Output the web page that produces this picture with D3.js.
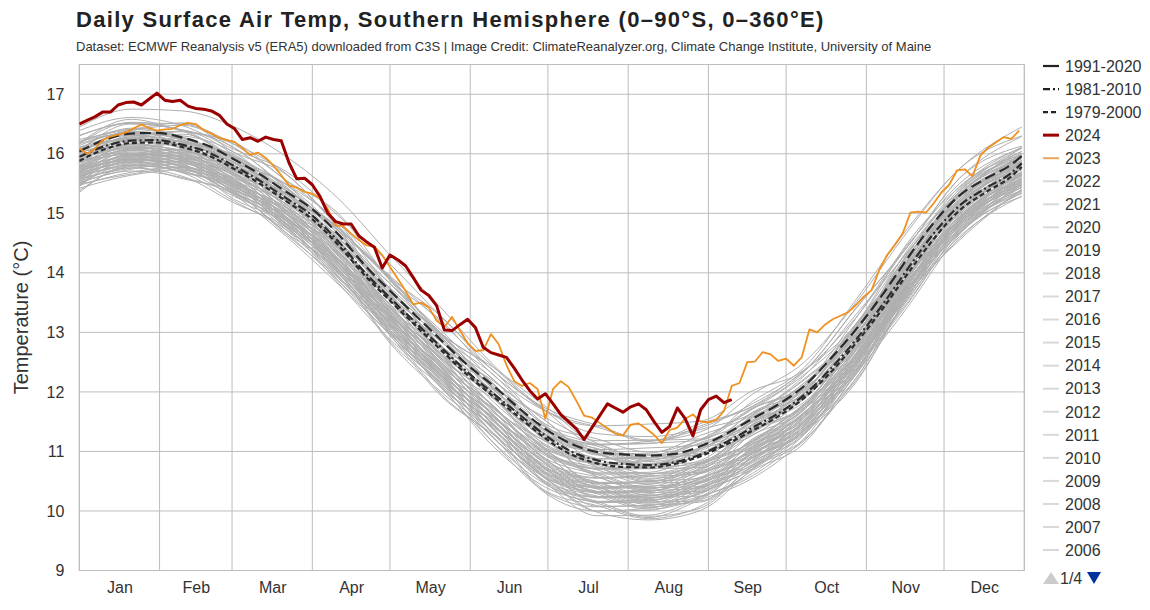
<!DOCTYPE html>
<html><head><meta charset="utf-8">
<script src="https://cdn.jsdelivr.net/npm/d3@7"></script>
<style>
body{margin:0;background:#fff}
svg{display:block}
text{font-family:"Liberation Sans",Arial,Helvetica,sans-serif}
</style>
</head><body>
<svg id="chart" width="1150" height="610"></svg>
<script>
// ---------------- DATA ----------------
const titleText = "Daily Surface Air Temp, Southern Hemisphere (0\u201390\u00b0S, 0\u2013360\u00b0E)";
const subtitleText = "Dataset: ECMWF Reanalysis v5 (ERA5) downloaded from C3S | Image Credit: ClimateReanalyzer.org, Climate Change Institute, University of Maine";
const yLabel = "Temperature (\u00b0C)";
const monthNames = ["Jan","Feb","Mar","Apr","May","Jun","Jul","Aug","Sep","Oct","Nov","Dec"];
const monthStartDays = [0,31,59,90,120,151,181,212,243,273,304,334,365];
const yTicks = [9,10,11,12,13,14,15,16,17];

// climatologies sampled every 10 days (last point day 364)
const climDays = [0,10,20,30,40,50,60,70,80,90,100,110,120,130,140,150,160,170,180,190,200,210,220,230,240,250,260,270,280,290,300,310,320,330,340,350,360,364];
const clim1991_2020 = [16.04,16.24,16.34,16.35,16.27,16.13,15.90,15.65,15.36,15.07,14.65,14.14,13.70,13.28,12.86,12.45,12.10,11.72,11.38,11.13,10.99,10.95,10.93,10.96,11.09,11.30,11.55,11.79,12.10,12.55,13.05,13.62,14.25,14.84,15.30,15.58,15.82,15.96];
const clim1981_2010 = [15.95,16.13,16.22,16.23,16.15,16.02,15.79,15.54,15.25,14.96,14.53,14.02,13.58,13.16,12.74,12.33,11.97,11.62,11.27,11.00,10.85,10.79,10.77,10.82,10.95,11.16,11.40,11.64,11.95,12.38,12.88,13.45,14.07,14.66,15.13,15.42,15.68,15.84];
const clim1979_2000 = [15.88,16.08,16.18,16.19,16.11,15.97,15.74,15.49,15.20,14.90,14.47,13.97,13.53,13.11,12.69,12.28,11.92,11.57,11.22,10.95,10.80,10.74,10.73,10.79,10.92,11.12,11.35,11.59,11.90,12.32,12.82,13.38,13.99,14.57,15.05,15.35,15.62,15.78];

// 2024 and 2023, every 3 days starting Jan 1
const stepDays = 3;
const temps2024 = [16.50,16.56,16.62,16.70,16.70,16.82,16.86,16.87,16.82,16.92,
 17.02,16.90,16.88,16.90,16.80,16.76,16.75,16.72,16.65,16.50,
 16.42,16.24,16.27,16.21,16.28,16.24,16.22,15.85,15.58,15.59,
 15.48,15.28,15.00,14.86,14.82,14.82,14.62,14.52,14.43,14.08,
 14.30,14.22,14.12,13.92,13.71,13.62,13.45,13.04,13.03,13.13,
 13.22,13.08,12.75,12.66,12.62,12.58,12.40,12.20,12.02,11.88,
 11.97,11.80,11.62,11.50,11.38,11.20,11.40,11.60,11.80,11.73,
 11.66,11.75,11.80,11.70,11.50,11.32,11.42,11.73,11.55,11.26,
 11.70,11.87,11.93,11.82,11.87];
const temps2023 = [16.09,16.00,16.08,16.23,16.29,16.32,16.36,16.43,16.49,16.43,
 16.39,16.41,16.42,16.48,16.52,16.50,16.40,16.34,16.27,16.23,
 16.20,16.09,15.98,16.02,15.93,15.80,15.64,15.47,15.43,15.36,
 15.33,15.25,15.07,14.80,14.78,14.66,14.55,14.46,14.44,14.30,
 14.10,13.90,13.70,13.47,13.50,13.42,13.20,13.09,13.26,13.03,
 12.82,12.69,12.70,12.97,12.80,12.45,12.18,12.10,12.15,12.05,
 11.55,12.05,12.18,12.08,11.85,11.60,11.57,11.48,11.39,11.30,
 11.27,11.45,11.47,11.38,11.28,11.14,11.36,11.40,11.55,11.62,
 11.50,11.49,11.53,11.68,12.10,12.15,12.50,12.51,12.67,12.63,
 12.52,12.56,12.44,12.58,13.05,13.00,13.13,13.22,13.28,13.34,
 13.46,13.60,13.71,14.05,14.30,14.47,14.66,15.01,15.03,15.01,
 15.17,15.35,15.48,15.72,15.74,15.62,15.97,16.10,16.19,16.28,
 16.25,16.39];

// earlier years 1940-2022 (estimated), sampled every 20 days (last point day 364)
const grayDays = [0,20,40,60,80,100,120,140,160,180,200,220,240,260,280,300,320,340,364];
const grayFirstYear = 1940;
const grayValues = [
[15.59,15.76,15.87,15.34,14.93,13.99,13.08,12.06,11.43,10.72,10.14,10.15,10.17,10.86,11.50,12.32,13.69,14.69,15.48],
[15.48,15.88,15.68,15.46,14.78,14.16,12.98,12.21,11.23,10.56,10.29,10.05,10.35,10.70,11.36,12.49,13.60,14.82,15.43],
[15.54,15.76,15.62,15.17,14.76,13.94,13.04,12.06,11.14,10.32,10.07,10.10,10.15,10.74,11.18,12.30,13.43,14.65,15.44],
[15.42,15.64,15.73,15.30,14.61,13.81,12.97,12.11,11.22,10.48,9.92,9.93,10.23,10.63,11.31,12.16,13.61,14.61,15.29],
[15.57,15.93,15.78,15.31,14.83,14.12,12.95,12.13,11.46,10.50,10.25,10.03,10.24,10.83,11.28,12.46,13.76,14.66,15.51],
[15.64,15.86,15.72,15.28,14.87,14.06,13.17,12.20,11.29,10.48,10.23,10.26,10.31,10.89,11.32,12.43,13.55,14.76,15.54],
[15.49,15.66,15.77,15.23,14.82,13.87,12.95,11.92,11.28,10.56,9.98,9.85,10.01,10.71,11.36,12.19,13.57,14.58,15.38],
[15.52,15.74,15.83,15.41,14.72,13.93,13.10,12.25,11.37,10.64,10.08,10.09,10.39,10.78,11.45,12.29,13.73,14.72,15.39],
[15.69,15.86,15.97,15.44,15.04,14.11,13.21,12.20,11.58,10.88,10.30,10.31,10.33,11.01,11.64,12.45,13.81,14.80,15.58],
[15.47,15.83,15.68,15.20,14.72,14.00,12.82,11.99,11.31,10.34,10.09,9.87,10.08,10.68,11.14,12.33,13.64,14.55,15.41],
[15.38,15.78,15.58,15.35,14.67,14.04,12.85,12.07,11.08,10.40,10.13,9.89,10.19,10.55,11.22,12.36,13.48,14.71,15.33],
[15.74,15.96,15.82,15.38,14.98,14.18,13.30,12.34,11.44,10.64,10.39,10.42,10.47,11.04,11.46,12.56,13.67,14.87,15.64],
[15.62,15.84,15.93,15.51,14.83,14.05,13.23,12.39,11.52,10.80,10.24,10.25,10.55,10.93,11.59,12.42,13.85,14.83,15.49],
[15.67,16.03,15.88,15.41,14.94,14.24,13.08,12.27,11.61,10.66,10.41,10.19,10.40,10.98,11.42,12.59,13.88,14.77,15.61],
[15.45,15.90,15.80,15.48,14.75,14.03,13.13,12.09,11.39,10.46,10.16,10.21,10.41,10.74,11.43,12.52,13.63,14.79,15.38],
[15.51,15.71,15.60,15.32,14.78,13.83,12.88,12.14,11.15,10.45,10.16,9.91,10.05,10.76,11.20,12.23,13.60,14.74,15.36],
[15.35,15.80,15.70,15.37,14.64,13.91,13.00,11.95,11.24,10.30,10.00,10.05,10.25,10.59,11.29,12.39,13.51,14.68,15.28],
[15.58,15.98,15.78,15.56,14.89,14.28,13.11,12.35,11.38,10.72,10.45,10.21,10.51,10.85,11.50,12.62,13.72,14.93,15.53],
[15.55,16.00,15.90,15.58,14.86,14.15,13.26,12.23,11.54,10.62,10.32,10.37,10.57,10.89,11.57,12.65,13.75,14.90,15.48],
[15.61,15.81,15.70,15.43,14.89,13.95,13.01,12.28,11.30,10.61,10.32,10.07,10.21,10.91,11.34,12.36,13.72,14.85,15.46],
[15.71,15.91,15.80,15.53,15.00,14.07,13.14,12.42,11.45,10.77,10.48,10.23,10.37,11.06,11.48,12.49,13.84,14.96,15.56],
[15.74,15.91,16.02,15.49,15.09,14.17,13.27,12.27,11.65,10.96,10.38,10.39,10.41,11.08,11.71,12.51,13.87,14.85,15.63],
[15.53,15.93,15.73,15.51,14.83,14.22,13.04,12.28,11.30,10.64,10.37,10.13,10.43,10.77,11.43,12.55,13.66,14.87,15.48],
[15.79,16.01,15.87,15.43,15.03,14.24,13.36,12.41,11.51,10.72,10.47,10.50,10.55,11.11,11.53,12.62,13.73,14.92,15.69],
[15.47,15.69,15.78,15.36,14.67,13.87,13.04,12.18,11.30,10.56,10.00,10.01,10.31,10.71,11.38,12.23,13.67,14.67,15.34],
[15.62,15.98,15.83,15.36,14.88,14.18,13.01,12.20,11.53,10.58,10.33,10.11,10.32,10.90,11.35,12.52,13.82,14.71,15.56],
[15.67,15.89,15.98,15.56,14.88,14.11,13.29,12.46,11.59,10.88,10.32,10.33,10.63,11.00,11.66,12.48,13.91,14.88,15.54],
[15.50,15.95,15.85,15.53,14.80,14.09,13.19,12.16,11.46,10.54,10.24,10.29,10.49,10.81,11.50,12.58,13.69,14.84,15.43],
[15.66,15.86,15.75,15.48,14.94,14.01,13.07,12.35,11.37,10.69,10.40,10.15,10.29,10.98,11.41,12.42,13.78,14.90,15.51],
[15.72,16.08,15.93,15.46,14.99,14.30,13.14,12.34,11.68,10.74,10.49,10.27,10.48,11.05,11.49,12.65,13.94,14.82,15.66],
[15.60,16.05,15.95,15.63,14.91,14.21,13.32,12.30,11.61,10.70,10.40,10.45,10.65,10.96,11.64,12.71,13.81,14.95,15.53],
[15.64,15.81,15.92,15.39,14.98,14.05,13.14,12.13,11.50,10.80,10.22,10.23,10.25,10.93,11.57,12.38,13.75,14.74,15.53],
[15.79,15.96,16.07,15.55,15.15,14.23,13.34,12.34,11.73,11.04,10.46,10.47,10.49,11.16,11.78,12.58,13.93,14.91,15.68],
[15.68,16.08,15.88,15.67,15.00,14.40,13.24,12.49,11.53,10.88,10.61,10.37,10.67,11.00,11.64,12.75,13.84,15.04,15.63],
[15.69,15.91,15.77,15.33,14.92,14.12,13.23,12.27,11.36,10.56,10.31,10.34,10.39,10.96,11.39,12.49,13.61,14.81,15.59],
[15.57,15.79,15.88,15.46,14.77,13.99,13.16,12.32,11.44,10.72,10.16,10.17,10.47,10.85,11.52,12.35,13.79,14.77,15.44],
[15.76,15.89,15.85,15.55,14.81,14.21,13.28,12.24,11.41,10.85,10.42,10.17,10.48,11.03,11.66,12.50,13.69,14.91,15.66],
[15.84,16.06,15.92,15.49,15.09,14.30,13.43,12.48,11.59,10.80,10.55,10.58,10.63,11.19,11.60,12.69,13.79,14.98,15.74],
[15.72,15.94,16.03,15.62,14.94,14.17,13.36,12.53,11.67,10.96,10.40,10.41,10.71,11.08,11.73,12.55,13.97,14.94,15.59],
[15.77,16.13,15.98,15.52,15.05,14.36,13.21,12.41,11.76,10.82,10.57,10.35,10.56,11.13,11.56,12.72,14.00,14.88,15.71],
[15.89,16.06,16.17,15.65,15.26,14.35,13.47,12.48,11.88,11.20,10.62,10.63,10.65,11.31,11.92,12.71,14.05,15.02,15.78],
[15.78,16.18,15.98,15.77,15.11,14.52,13.37,12.63,11.68,11.04,10.77,10.53,10.83,11.15,11.78,12.88,13.96,15.15,15.73],
[15.70,16.15,16.05,15.74,15.03,14.33,13.46,12.44,11.77,10.86,10.56,10.61,10.81,11.12,11.78,12.85,13.93,15.07,15.63],
[15.94,16.16,16.02,15.59,15.20,14.42,13.56,12.62,11.74,10.96,10.71,10.74,10.79,11.34,11.74,12.82,13.91,15.09,15.84],
[15.81,16.01,15.90,15.64,15.11,14.19,13.27,12.56,11.60,10.93,10.64,10.39,10.53,11.21,11.62,12.62,13.96,15.07,15.66],
[15.86,15.99,15.95,15.66,14.92,14.33,13.41,12.38,11.56,11.01,10.58,10.33,10.64,11.18,11.80,12.63,13.81,15.02,15.76],
[15.77,15.99,16.08,15.67,15.00,14.23,13.43,12.60,11.75,11.04,10.48,10.49,10.79,11.16,11.80,12.62,14.03,15.00,15.64],
[15.92,16.28,16.13,15.68,15.22,14.54,13.41,12.62,11.99,11.06,10.81,10.59,10.80,11.36,11.77,12.92,14.18,15.05,15.86],
[15.96,16.16,16.05,15.80,15.28,14.37,13.47,12.77,11.83,11.17,10.88,10.63,10.77,11.44,11.83,12.82,14.14,15.24,15.81],
[15.96,16.09,16.05,15.76,15.03,14.45,13.54,12.52,11.71,11.17,10.74,10.49,10.80,11.33,11.94,12.76,13.93,15.13,15.86],
[15.99,16.16,16.27,15.76,15.37,14.47,13.60,12.62,12.03,11.36,10.78,10.79,10.81,11.46,12.06,12.84,14.17,15.13,15.88],
[15.85,16.30,16.20,15.90,15.19,14.51,13.65,12.65,11.99,11.10,10.80,10.85,11.05,11.34,11.99,13.04,14.11,15.23,15.78],
[15.73,16.13,15.93,15.72,15.06,14.46,13.31,12.56,11.61,10.96,10.69,10.45,10.75,11.08,11.71,12.82,13.90,15.10,15.68],
[15.87,16.23,16.08,15.62,15.16,14.48,13.34,12.55,11.91,10.98,10.73,10.51,10.72,11.28,11.70,12.85,14.12,14.99,15.81],
[15.91,16.11,16.00,15.74,15.22,14.31,13.40,12.70,11.75,11.09,10.80,10.55,10.69,11.36,11.76,12.75,14.08,15.18,15.76],
[16.04,16.26,16.12,15.70,15.31,14.54,13.69,12.76,11.89,11.12,10.87,10.90,10.95,11.49,11.88,12.95,14.03,15.20,15.94],
[15.87,16.09,16.18,15.78,15.11,14.35,13.56,12.74,11.90,11.20,10.64,10.65,10.95,11.31,11.94,12.75,14.15,15.11,15.74],
[15.93,16.33,16.13,15.93,15.28,14.70,13.57,12.84,11.91,11.28,11.01,10.77,11.07,11.38,11.99,13.08,14.14,15.32,15.88],
[16.30,16.52,16.50,16.15,15.55,14.85,13.90,12.95,12.05,11.35,10.95,10.80,11.05,11.50,12.10,12.95,14.15,15.20,15.85],
[15.94,16.11,16.22,15.71,15.32,14.41,13.54,12.55,11.96,11.28,10.70,10.71,10.73,11.39,11.99,12.78,14.11,15.08,15.83],
[15.80,16.25,16.15,15.85,15.14,14.45,13.59,12.58,11.92,11.02,10.72,10.77,10.97,11.27,11.92,12.98,14.05,15.18,15.73],
[16.02,16.38,16.23,15.78,15.33,14.66,13.54,12.76,12.14,11.22,10.97,10.75,10.96,11.51,11.91,13.05,14.30,15.16,15.96],
[16.14,16.36,16.22,15.80,15.42,14.66,13.82,12.90,12.04,11.28,11.03,11.06,11.11,11.64,12.02,13.08,14.15,15.31,16.04],
[16.02,16.24,16.33,15.93,15.27,14.53,13.75,12.95,12.12,11.44,10.88,10.89,11.19,11.53,12.15,12.94,14.33,15.27,15.89],
[16.06,16.26,16.15,15.90,15.39,14.49,13.60,12.91,11.98,11.33,11.04,10.79,10.93,11.59,11.97,12.95,14.26,15.35,15.91],
[16.09,16.26,16.37,15.86,15.48,14.59,13.73,12.76,12.18,11.52,10.94,10.95,10.97,11.61,12.20,12.97,14.29,15.24,15.98],
[15.98,16.38,16.18,15.98,15.33,14.76,13.63,12.91,11.98,11.36,11.09,10.85,11.15,11.45,12.06,13.14,14.20,15.37,15.93],
[16.11,16.24,16.20,15.92,15.20,14.63,13.74,12.73,11.94,11.41,10.98,10.73,11.04,11.56,12.15,12.96,14.11,15.30,16.01],
[16.01,16.21,16.10,15.85,15.33,14.43,13.53,12.84,11.90,11.25,10.96,10.71,10.85,11.51,11.90,12.88,14.20,15.29,15.86],
[16.07,16.43,16.28,15.83,15.38,14.72,13.60,12.83,12.21,11.30,11.05,10.83,11.04,11.58,11.98,13.11,14.36,15.21,16.01],
[16.19,16.41,16.27,15.85,15.48,14.72,13.89,12.97,12.12,11.36,11.11,11.14,11.19,11.72,12.09,13.15,14.21,15.37,16.09],
[15.90,16.35,16.25,15.95,15.25,14.57,13.72,12.72,12.07,11.18,10.88,10.93,11.13,11.42,12.06,13.11,14.17,15.29,15.83],
[16.11,16.31,16.20,15.95,15.44,14.55,13.66,12.98,12.05,11.41,11.12,10.87,11.01,11.66,12.04,13.01,14.32,15.40,15.96],
[16.07,16.29,16.38,15.98,15.33,14.59,13.82,13.02,12.20,11.52,10.96,10.97,11.27,11.61,12.22,13.01,14.39,15.33,15.94],
[16.21,16.34,16.30,16.02,15.31,14.75,13.87,12.87,12.09,11.57,11.14,10.89,11.20,11.71,12.29,13.09,14.23,15.41,16.11],
[16.24,16.41,16.52,16.02,15.65,14.77,13.93,12.97,12.41,11.76,11.18,11.19,11.21,11.84,12.41,13.55,14.75,15.75,16.45],
[16.45,16.75,16.72,16.45,15.95,15.25,14.30,13.40,12.45,11.70,11.30,11.25,11.40,11.80,12.35,13.25,14.45,15.50,16.10],
[16.18,16.58,16.38,16.19,15.55,15.00,13.89,13.19,12.28,11.68,11.41,11.17,11.47,11.75,12.34,13.40,14.44,15.59,16.13],
[16.05,16.50,16.40,16.10,15.41,14.75,13.91,12.93,12.29,11.42,11.12,11.17,11.37,11.64,12.27,13.30,14.35,15.45,15.98],
[16.31,16.51,16.40,16.16,15.66,14.79,13.92,13.26,12.35,11.73,11.44,11.19,11.33,11.96,12.50,13.50,14.70,15.75,16.30],
[16.39,16.61,16.47,16.07,15.70,14.96,14.15,13.25,12.42,11.68,11.43,11.46,11.51,12.02,12.37,13.41,14.45,15.59,16.29],
[16.17,16.53,16.38,15.93,15.49,14.84,13.73,12.97,12.36,11.46,11.21,10.99,11.20,11.73,12.12,13.24,14.48,15.32,16.11],
[16.17,16.39,16.48,16.09,15.44,14.71,13.95,13.16,12.35,11.68,11.12,11.13,11.43,11.76,12.36,13.14,14.51,15.44,16.04]
];

// ---------------- CHART ----------------
const W = 1150, H = 610;
const margin = {left: 79.3, right: 1150 - 1024.3, top: 64.5, bottom: 610 - 570.5};
const svg = d3.select("#chart");
const x = d3.scaleLinear().domain([0, 365]).range([margin.left, W - margin.right]);
const y = d3.scaleLinear().domain([9, 17.5]).range([H - margin.bottom, margin.top]);

svg.append("defs").append("clipPath").attr("id","plotclip")
  .append("rect").attr("x", x(0)).attr("y", y(17.5)).attr("width", x(365)-x(0)).attr("height", y(9)-y(17.5));

// title
svg.append("text").attr("x", 76).attr("y", 27).text(titleText)
  .style("font-size","22px").style("font-weight","bold").style("letter-spacing","1.3px").attr("fill","#222");
svg.append("text").attr("x", 76).attr("y", 51).text(subtitleText)
  .style("font-size","13px").attr("fill","#333");

// grid
const grid = svg.append("g");
grid.selectAll("line.v").data(monthStartDays).join("line")
  .attr("x1", d => x(d)).attr("x2", d => x(d))
  .attr("y1", y(17.5)).attr("y2", y(9))
  .attr("stroke","#bdbdbd").attr("stroke-width",1);
grid.selectAll("line.h").data(yTicks).join("line")
  .attr("x1", x(0)).attr("x2", x(365))
  .attr("y1", d => y(d)).attr("y2", d => y(d))
  .attr("stroke","#bdbdbd").attr("stroke-width",1);
grid.append("rect").attr("x", x(0)).attr("y", y(17.5)).attr("width", x(365)-x(0)).attr("height", y(9)-y(17.5))
  .attr("fill","none").attr("stroke","#bdbdbd");

// axes
const monthMids = monthNames.map((m,i) => (monthStartDays[i] + monthStartDays[i+1]) / 2);
const xAxis = d3.axisBottom(x).tickValues(monthMids).tickFormat((d,i) => monthNames[i]).tickSize(0).tickPadding(11);
const gx = svg.append("g").attr("transform", `translate(0,${y(9)})`).call(xAxis);
gx.select(".domain").remove();
gx.selectAll("text").style("font-size","16px").attr("fill","#333");

const yAxis = d3.axisLeft(y).tickValues(yTicks).tickFormat(d3.format("d")).tickSize(0).tickPadding(15);
const gy = svg.append("g").attr("transform", `translate(${x(0)},0)`).call(yAxis);
gy.select(".domain").remove();
gy.selectAll("text").style("font-size","16px").attr("fill","#333");

svg.append("text").attr("transform", `translate(28,${(y(9)+y(17.5))/2}) rotate(-90)`)
  .attr("text-anchor","middle").text(yLabel).style("font-size","20px").attr("fill","#333");

// lines
const plot = svg.append("g").attr("clip-path","url(#plotclip)");
const smoothLine = d3.line().x(d => x(d[0])).y(d => y(d[1])).curve(d3.curveMonotoneX);
const rawLine = d3.line().x(d => x(d[0])).y(d => y(d[1]));

const grayYears = grayValues.map((v,i) => grayFirstYear + i);
plot.append("g").selectAll("path").data(grayValues).join("path")
  .attr("d", vals => smoothLine(vals.map((v,i) => [grayDays[i], v])))
  .attr("fill","none").attr("stroke","#afafaf").attr("stroke-width",1);

const climSeries = [
  {name:"1991-2020", vals: clim1991_2020, dash:"11,5"},
  {name:"1981-2010", vals: clim1981_2010, dash:"9,3,2,3"},
  {name:"1979-2000", vals: clim1979_2000, dash:"5,3"}
];
plot.append("g").selectAll("path").data(climSeries).join("path")
  .attr("d", s => smoothLine(s.vals.map((v,i) => [climDays[i], v])))
  .attr("fill","none").attr("stroke","#2b2b2b").attr("stroke-width",2.2)
  .attr("stroke-dasharray", s => s.dash);

plot.append("path")
  .attr("d", rawLine(temps2023.map((v,i) => [i*stepDays, v])))
  .attr("fill","none").attr("stroke","#f0901e").attr("stroke-width",1.8).attr("stroke-linejoin","round");
plot.append("path")
  .attr("d", rawLine(temps2024.map((v,i) => [i*stepDays, v])))
  .attr("fill","none").attr("stroke","#9b0000").attr("stroke-width",3).attr("stroke-linejoin","round");

// legend
const legendItems = [
  {name:"1991-2020", color:"#222", w:2.2, dash:null},
  {name:"1981-2010", color:"#222", w:2.2, dash:"7,3,2,3"},
  {name:"1979-2000", color:"#222", w:2.2, dash:"5,3"},
  {name:"2024", color:"#9b0000", w:3, dash:null},
  {name:"2023", color:"#e9a55a", w:2, dash:null},
  ...grayYears.slice().reverse().map(yr => ({name:String(yr), color:"#d9d9d9", w:2, dash:null}))
];
const perPage = 22;
const pages = Math.ceil(legendItems.length / perPage);
const lg = svg.append("g");
const li = lg.selectAll("g").data(legendItems.slice(0, perPage)).join("g")
  .attr("transform", (d,i) => `translate(0,${66 + i*23.05})`);
li.append("line").attr("x1",1043).attr("x2",1059).attr("y1",0).attr("y2",0)
  .attr("stroke", d => d.color).attr("stroke-width", d => d.w)
  .attr("stroke-dasharray", d => d.dash);
li.append("text").attr("x",1065).attr("y",0).attr("dy","0.36em").text(d => d.name)
  .style("font-size","16px").attr("fill","#333");

const pg = lg.append("g").attr("transform","translate(0,578)");
pg.append("path").attr("d","M1043,6 L1051,-6 L1059,6 Z").attr("fill","#cccccc");
pg.append("text").attr("x",1060).attr("y",0).attr("dy","0.36em").text(`1/${pages}`)
  .style("font-size","16px").attr("fill","#333");
pg.append("path").attr("d","M1087,-6 L1101,-6 L1094,6 Z").attr("fill","#003399");
</script>
</body></html>
